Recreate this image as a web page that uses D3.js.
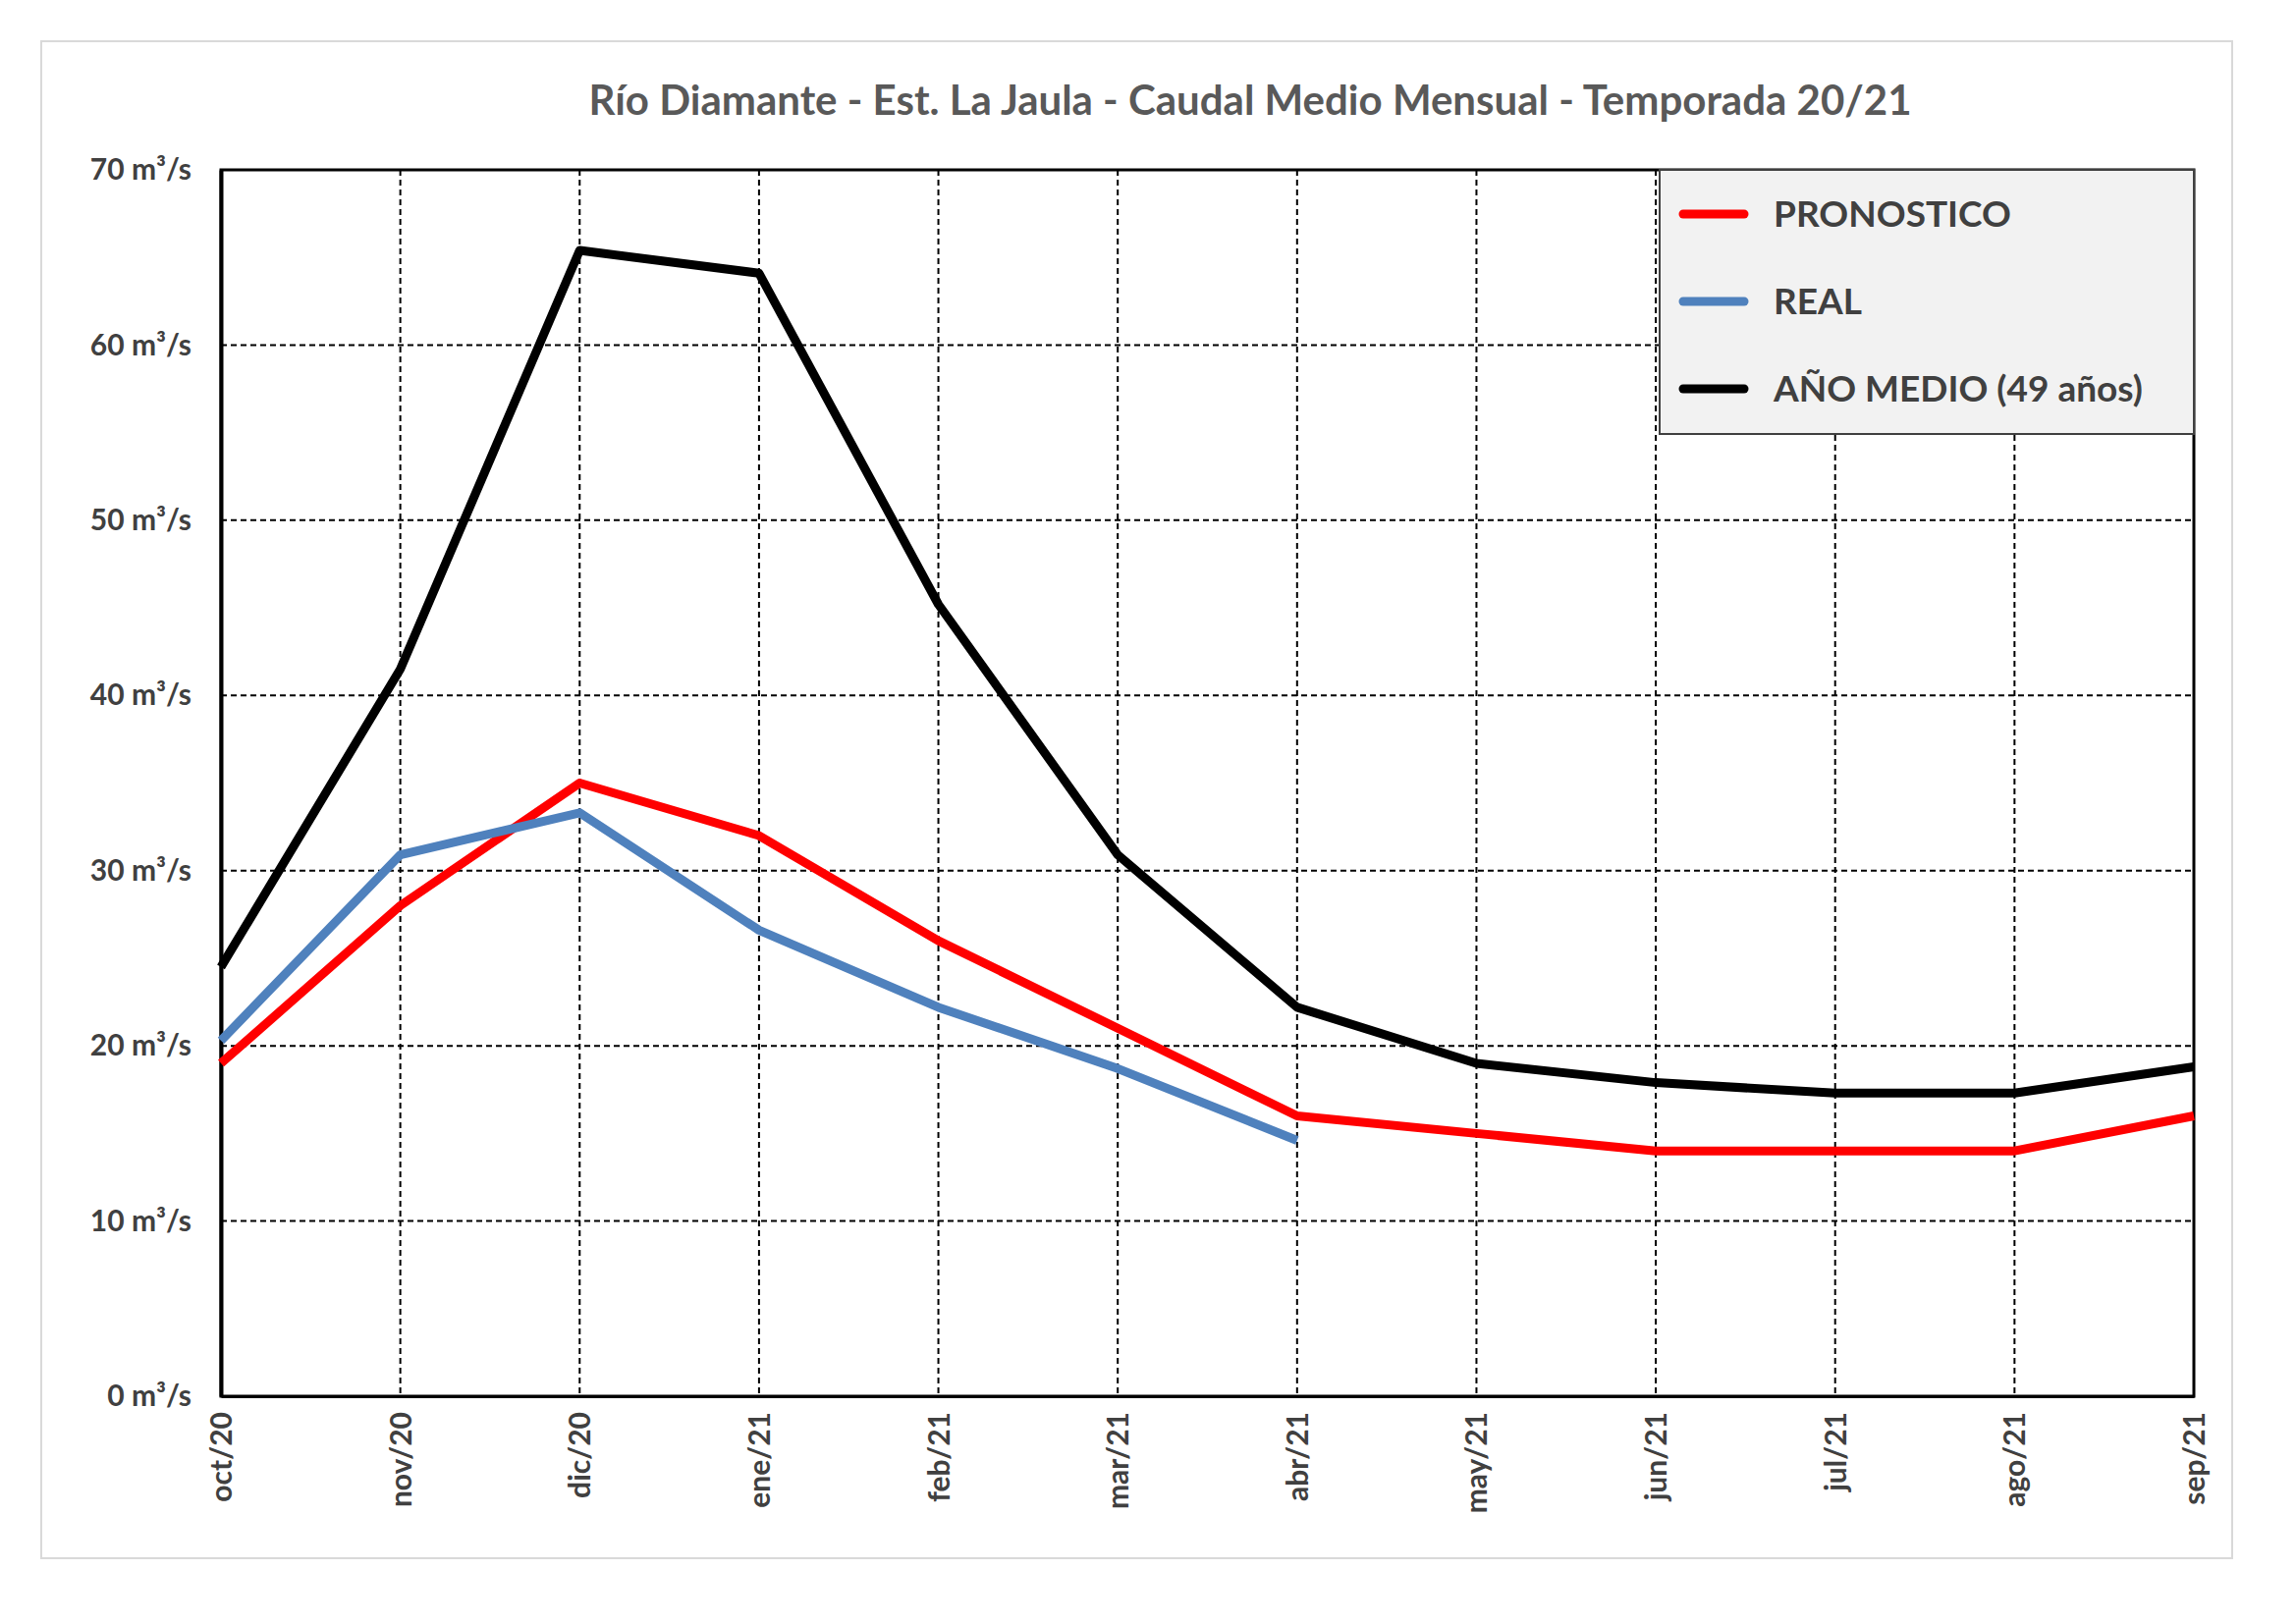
<!DOCTYPE html>
<html><head><meta charset="utf-8">
<script src="https://cdn.jsdelivr.net/npm/d3@7"></script>
<style>body{margin:0;background:#fff}svg{font-family:Lato,'Open Sans',sans-serif}</style>
</head><body><svg id="c" width="2338" height="1654"></svg>
<script>
const months = ['oct/20','nov/20','dic/20','ene/21','feb/21','mar/21','abr/21','may/21','jun/21','jul/21','ago/21','sep/21'];
const series = [
  { name: 'PRONOSTICO', color: '#ff0000', values: [19.0, 28, 35, 32, 26, 21, 16, 15, 14, 14, 14, 16] },
  { name: 'REAL', color: '#4f81bd', values: [20.3, 30.9, 33.3, 26.6, 22.2, 18.7, 14.6] },
  { name: 'AÑO MEDIO (49 años)', color: '#000000', values: [24.5, 41.5, 65.4, 64.1, 45.2, 30.9, 22.2, 19.0, 17.9, 17.3, 17.3, 18.8] }
];
const margin = { top: 173, right: 104, bottom: 232, left: 225 };
const W = 2338, H = 1654;
const w = W - margin.left - margin.right, h = H - margin.top - margin.bottom;
const svg = d3.select('#c');
svg.append('rect').attr('x', 42).attr('y', 42).attr('width', 2231).attr('height', 1545)
  .attr('fill', 'none').attr('stroke', '#d9d9d9').attr('stroke-width', 2);
svg.append('text').attr('x', 1273).attr('y', 117).attr('text-anchor', 'middle')
  .attr('font-size', 42).attr('font-weight', 'bold').attr('fill', '#595959')
  .text('Río Diamante - Est. La Jaula - Caudal Medio Mensual - Temporada 20/21');
const g = svg.append('g').attr('transform', `translate(${margin.left},${margin.top})`);
const x = d3.scalePoint().domain(months).range([0, w]);
const y = d3.scaleLinear().domain([0, 70]).range([h, 0]);
// grid
g.append('g').selectAll('line').data(d3.range(10, 70, 10)).join('line')
  .attr('x1', 0).attr('x2', w).attr('y1', d => y(d)).attr('y2', d => y(d))
  .attr('stroke', '#000').attr('stroke-width', 2).attr('stroke-dasharray', '6,4');
g.append('g').selectAll('line').data(months.slice(1, -1)).join('line')
  .attr('x1', d => x(d)).attr('x2', d => x(d)).attr('y1', 0).attr('y2', h)
  .attr('stroke', '#000').attr('stroke-width', 2).attr('stroke-dasharray', '6,4');
g.append('rect').attr('width', w).attr('height', h).attr('fill', 'none').attr('stroke', '#000').attr('stroke-width', 3);
const ya = g.append('g').call(d3.axisLeft(y).ticks(7).tickSize(0).tickPadding(30).tickFormat(d => `${d} m³/s`));
ya.select('.domain').attr('stroke-width', 4);
ya.selectAll('text').attr('font-size', 30).attr('font-weight', 'bold').attr('fill', '#404040').attr('font-family', 'Lato');
const xa = g.append('g').attr('transform', `translate(0,${h})`).call(d3.axisBottom(x).tickSize(0));
xa.select('.domain').attr('stroke-width', 3);
xa.selectAll('text').attr('font-size', 30).attr('font-weight', 'bold').attr('fill', '#404040').attr('font-family', 'Lato')
  .attr('transform', 'rotate(-90)').attr('text-anchor', 'end').attr('x', -16).attr('y', 0).attr('dy', '0.35em');
const line = d3.line().x((d, i) => x(months[i])).y(d => y(d));
series.forEach(s => {
  g.append('path').datum(s.values).attr('d', line).attr('fill', 'none')
    .attr('stroke', s.color).attr('stroke-width', 9).attr('stroke-linejoin', 'round');
});
// legend
const lg = svg.append('g').attr('transform', 'translate(1690,173)');
lg.append('rect').attr('width', 544).attr('height', 269).attr('fill', '#f2f2f2').attr('stroke', '#404040').attr('stroke-width', 2);
series.forEach((s, i) => {
  const yy = 45 + i * 89;
  lg.append('line').attr('x1', 24).attr('x2', 86).attr('y1', yy).attr('y2', yy)
    .attr('stroke', s.color).attr('stroke-width', 9).attr('stroke-linecap', 'round');
  lg.append('text').attr('x', 116).attr('y', yy).attr('dy', '0.35em').attr('font-size', 37)
    .attr('font-weight', 'bold').attr('fill', '#404040').text(s.name);
});
</script></body></html>
